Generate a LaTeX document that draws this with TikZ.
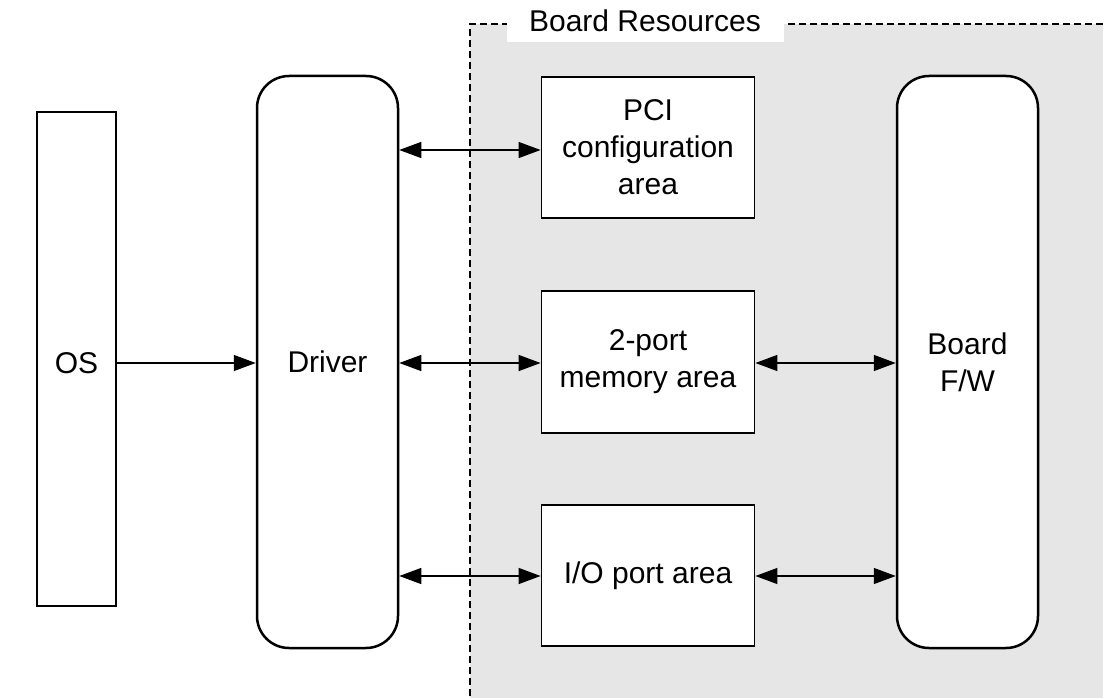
\documentclass[tikz,border=0pt]{standalone}
\usepackage{fontspec}
\setmainfont{Liberation Sans}
\usetikzlibrary{arrows.meta}
\definecolor{boardgray}{RGB}{230,230,230}
\tikzset{
  plainbox/.style={draw, line width=1.8pt, fill=white, inner sep=0pt, align=center,
    font=\fontsize{30}{37}\selectfont},
  roundbox/.style={plainbox, rounded corners=32pt, line width=2.5pt},
  arr/.style={line width=1.3pt, -{Triangle[length=22pt,width=16pt]}},
  biarr/.style={line width=1.3pt, {Triangle[length=22pt,width=16pt]}-{Triangle[length=22pt,width=16pt]}},
  zone/.style={line width=1.3pt, dash pattern=on 7pt off 4pt}
}
\begin{document}
\begin{tikzpicture}[x=1pt,y=-1pt]
\useasboundingbox (0,0) rectangle (1103,698);

% board resources region
\fill[boardgray] (470,24) rectangle (1103,698);
\draw[zone] (1103,24) -- (470,24) -- (470,698);
\node[fill=white, inner sep=0pt, minimum width=277pt, minimum height=42pt,
  font=\fontsize{30}{37}\selectfont] (title) at (645,21) {Board Resources};

% blocks
\node[plainbox, minimum width=79pt, minimum height=494pt, text height=29pt, text depth=0pt] (os) at (76.5,359) {OS};
\node[roundbox, minimum width=141pt, minimum height=572pt] (drv) at (327.5,362) {Driver};
\node[plainbox, minimum width=213pt, minimum height=141pt] (pci) at (648,147.5) {PCI\\configuration\\area};
\node[plainbox, minimum width=213pt, minimum height=142pt] (mem) at (648,362) {2-port\\memory area};
\node[plainbox, minimum width=213pt, minimum height=141pt] (io) at (648,575.5) {I/O port area};
\node[roundbox, minimum width=141pt, minimum height=572pt] (fw) at (967.5,362) {Board\\F/W};

% connectors
\coordinate (osr) at (116,363);
\draw[arr] (osr) -- (osr -| drv.west);
\coordinate (prow) at (0,150);
\draw[biarr] (prow -| drv.east) -- (prow -| pci.west);
\coordinate (mrow) at (0,363);
\draw[biarr] (mrow -| drv.east) -- (mrow -| mem.west);
\draw[biarr] (mrow -| mem.east) -- (mrow -| fw.west);
\coordinate (irow) at (0,576);
\draw[biarr] (irow -| drv.east) -- (irow -| io.west);
\draw[biarr] (irow -| io.east) -- (irow -| fw.west);
\end{tikzpicture}
\end{document}
